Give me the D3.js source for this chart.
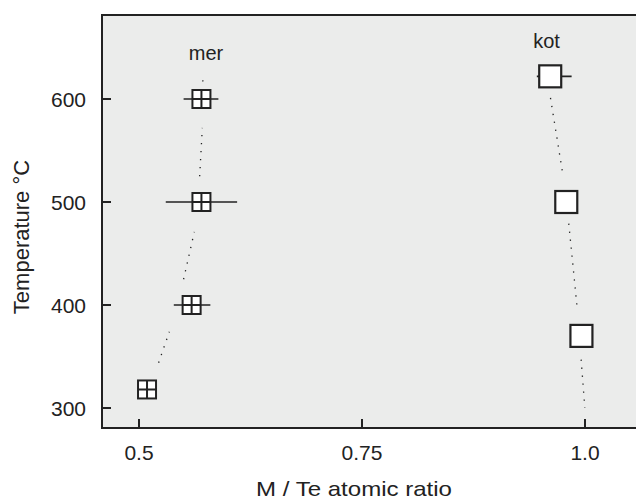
<!DOCTYPE html>
<html>
<head>
<meta charset="utf-8">
<script src="https://cdn.jsdelivr.net/npm/d3@7"></script>
<style>
  body { margin: 0; background: #fff; }
  svg { display: block; font-family: "Liberation Sans", Arial, sans-serif; }
</style>
</head>
<body>
<div class="chart"></div>
<script>
// tick labels
const xTicks = [0.5, 0.75, 1.0];
const xTickLabels = ["0.5", "0.75", "1.0"];
const yTicks = [300, 400, 500, 600];

// mer: ratio, temperature, error bar low / high
const merRatio = [0.509, 0.559, 0.570, 0.570];
const merTemp = [318, 400, 500, 600];
const merErrLo = [null, 0.539, 0.530, 0.550];
const merErrHi = [null, 0.580, 0.610, 0.589];

// kot
const kotRatio = [0.961, 0.979, 0.996];
const kotTemp = [622, 500, 370];
const kotErrLo = [0.946, null, null];
const kotErrHi = [0.985, null, null];

// dotted guide lines, drawn in pieces between the markers
const merGuide = [
  [[0.522, 344], [0.534, 374]],
  [[0.550, 425], [0.562, 471]],
  [[0.568, 525], [0.571, 572]],
  [[0.5715, 617], [0.5718, 620]]
];
const kotGuide = [
  [[0.9613, 601], [0.9755, 525]],
  [[0.9818, 479], [0.9916, 394]],
  [[0.9957, 347], [0.9998, 300]]
];

const width = 636, height = 501;
const plotLeft = 102, plotTop = 15, plotBottom = 428;

const svg = d3.select(".chart").append("svg")
  .attr("width", width)
  .attr("height", height);

const x = d3.scaleLinear().domain([0.5, 1.0]).range([139, 585]);
const y = d3.scaleLinear().domain([300, 600]).range([408, 99]);

const ink = "#222";

// plot area
svg.append("rect")
  .attr("x", plotLeft).attr("y", plotTop)
  .attr("width", width - plotLeft).attr("height", plotBottom - plotTop)
  .attr("fill", "#ebeceb");

// frame: left, top and bottom only
svg.append("path")
  .attr("d", `M${width},${plotTop}H${plotLeft}V${plotBottom}H${width}`)
  .attr("fill", "none")
  .attr("stroke", ink)
  .attr("stroke-width", 2);

// y ticks inward
svg.append("g").selectAll("line").data(yTicks).join("line")
  .attr("x1", plotLeft).attr("x2", plotLeft + 9)
  .attr("y1", d => y(d)).attr("y2", d => y(d))
  .attr("stroke", ink).attr("stroke-width", 2);

svg.append("g").selectAll("text").data(yTicks).join("text")
  .attr("x", 86).attr("y", d => y(d) + 7.5)
  .attr("text-anchor", "end")
  .attr("font-size", 21)
  .attr("fill", ink)
  .text(d => d);

// x ticks inward
svg.append("g").selectAll("line").data(xTicks).join("line")
  .attr("x1", d => x(d)).attr("x2", d => x(d))
  .attr("y1", plotBottom).attr("y2", plotBottom - 9)
  .attr("stroke", ink).attr("stroke-width", 2);

svg.append("g").selectAll("text").data(xTicks).join("text")
  .attr("x", d => x(d)).attr("y", 459.5)
  .attr("text-anchor", "middle")
  .attr("font-size", 21)
  .attr("fill", ink)
  .text((d, i) => xTickLabels[i]);

// axis titles
svg.append("text")
  .attr("x", 354).attr("y", 496)
  .attr("text-anchor", "middle")
  .attr("font-size", 21)
  .attr("textLength", 196)
  .attr("lengthAdjust", "spacingAndGlyphs")
  .attr("fill", ink)
  .text("M / Te atomic ratio");

svg.append("text")
  .attr("transform", "translate(29,237) rotate(-90)")
  .attr("text-anchor", "middle")
  .attr("font-size", 22)
  .attr("fill", ink)
  .text("Temperature °C");

// dotted guides
const line = d3.line().x(d => x(d[0])).y(d => y(d[1]));
svg.append("g").selectAll("path").data(merGuide.concat(kotGuide)).join("path")
  .attr("d", line)
  .attr("fill", "none")
  .attr("stroke", ink)
  .attr("stroke-width", 1.3)
  .attr("stroke-dasharray", "1.3,6.7");

// error bars
function errBars(lo, hi, temp) {
  const rows = temp.map((t, i) => ({ t, lo: lo[i], hi: hi[i] })).filter(d => d.lo != null);
  svg.append("g").selectAll("line").data(rows).join("line")
    .attr("x1", d => x(d.lo)).attr("x2", d => x(d.hi))
    .attr("y1", d => y(d.t)).attr("y2", d => y(d.t))
    .attr("stroke", ink).attr("stroke-width", 1.6);
}
errBars(merErrLo, merErrHi, merTemp);
errBars(kotErrLo, kotErrHi, kotTemp);

// mer markers: square with a cross
const ms = 18;
const mer = svg.append("g").selectAll("g").data(merTemp).join("g")
  .attr("transform", (d, i) => `translate(${x(merRatio[i])},${y(d)})`);
mer.append("rect")
  .attr("x", -ms / 2).attr("y", -ms / 2)
  .attr("width", ms).attr("height", ms)
  .attr("fill", "#fff").attr("stroke", ink).attr("stroke-width", 2);
mer.append("path")
  .attr("d", `M${-ms / 2},0H${ms / 2}M0,${-ms / 2}V${ms / 2}`)
  .attr("stroke", ink).attr("stroke-width", 2);

// kot markers: open square
const ks = 22;
svg.append("g").selectAll("rect").data(kotTemp).join("rect")
  .attr("x", (d, i) => x(kotRatio[i]) - ks / 2)
  .attr("y", d => y(d) - ks / 2)
  .attr("width", ks).attr("height", ks)
  .attr("fill", "#fff").attr("stroke", ink).attr("stroke-width", 2.2);

// phase labels
svg.append("text")
  .attr("x", 206).attr("y", 60)
  .attr("text-anchor", "middle")
  .attr("font-size", 20)
  .attr("fill", ink)
  .text("mer");

svg.append("text")
  .attr("x", 546.5).attr("y", 48)
  .attr("text-anchor", "middle")
  .attr("font-size", 20)
  .attr("fill", ink)
  .text("kot");
</script>
</body>
</html>
